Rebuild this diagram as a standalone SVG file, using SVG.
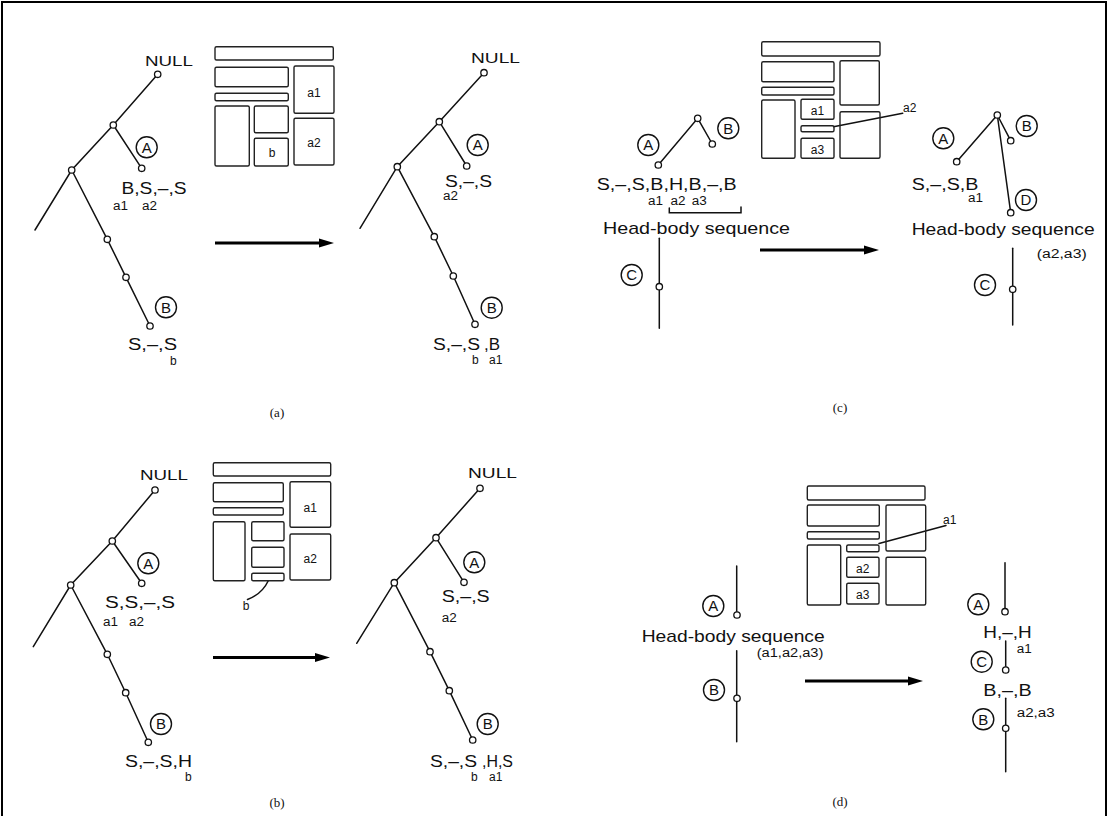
<svg xmlns="http://www.w3.org/2000/svg" width="1109" height="816" viewBox="0 0 1109 816">
<style>
.t{font-family:"Liberation Sans",Arial,Helvetica,sans-serif;fill:#111}
.lb{font-size:16px}
.sm{font-size:12px}
.cap{font-family:"Liberation Serif","Times New Roman",serif;font-size:13px;fill:#111}
.e{stroke:#111;stroke-width:1.5;fill:none;stroke-linecap:round}
.n{fill:#fff;stroke:#111;stroke-width:1.3}
.c{fill:none;stroke:#111;stroke-width:1.4}
.ct{font-family:"Liberation Sans",Arial,sans-serif;font-size:15px;fill:#111;text-anchor:middle}
.bx{fill:none;stroke:#222;stroke-width:1.4}
.bl{font-family:"Liberation Sans",Arial,sans-serif;font-size:12px;fill:#111;text-anchor:middle}
.ar{stroke:#000;stroke-width:3;fill:none}
.ah{fill:#000}
</style>
<rect width="1109" height="816" fill="#fff"/>
<path d="M2,816 V2 H1106 V816" fill="none" stroke="#000" stroke-width="2"/>

<!-- ===== connectors ===== -->
<g id="connectors">
  <!-- (a) left tree -->
  <polyline class="e" points="157.7,74.3 113.3,125 71.7,170 35,230"/>
  <line class="e" x1="113.3" y1="125" x2="141.7" y2="168.3"/>
  <polyline class="e" points="71.7,170 107.3,239.3 126,277.3 150,326"/>
  <!-- (a) right tree -->
  <polyline class="e" points="484,72.7 439.3,121.7 397.3,166.7 360,228.3"/>
  <line class="e" x1="439.3" y1="121.7" x2="466.7" y2="166"/>
  <polyline class="e" points="397.3,166.7 434.3,236.7 453.3,276 475,324.3"/>
  <!-- (b) left tree -->
  <polyline class="e" points="155,490 112.3,541 70.7,585 33.3,646.7"/>
  <line class="e" x1="112.3" y1="541" x2="141.7" y2="583.3"/>
  <polyline class="e" points="70.7,585 107.3,654.3 125.7,692.7 148.3,742.3"/>
  <!-- (b) right tree -->
  <polyline class="e" points="480,488.3 436,537.7 394.3,582.7 356.7,643.3"/>
  <line class="e" x1="436" y1="537.7" x2="464" y2="582.3"/>
  <polyline class="e" points="394.3,582.7 430,651.7 449.3,690.7 472.7,740"/>
  <!-- (c) left -->
  <polyline class="e" points="658.3,165 697.7,118.3 712.3,144"/>
  <line class="e" x1="659.3" y1="238.3" x2="659.3" y2="328.3"/>
  <path class="e" d="M669.3,208 V212.7 H741 V207"/>
  <!-- (c) right -->
  <line class="e" x1="997.3" y1="115" x2="956.7" y2="161.7"/>
  <line class="e" x1="997.3" y1="115" x2="1010.7" y2="140.7"/>
  <line class="e" x1="997.3" y1="115" x2="1010.7" y2="212.7"/>
  <line class="e" x1="1012.7" y1="248.3" x2="1012.7" y2="325"/>
  <!-- (d) left -->
  <line class="e" x1="736.7" y1="566" x2="736.7" y2="615"/>
  <line class="e" x1="736.7" y1="650.7" x2="736.7" y2="741.7"/>
  <!-- (d) right -->
  <line class="e" x1="1005" y1="562.7" x2="1005" y2="611.7"/>
  <line class="e" x1="1005.7" y1="641" x2="1005.7" y2="670"/>
  <line class="e" x1="1005.7" y1="698.3" x2="1005.7" y2="771.7"/>
  <!-- leaders -->
  <line class="e" x1="833.5" y1="126.7" x2="902.7" y2="113.3"/>
  <line class="e" x1="879" y1="543.5" x2="946" y2="525.5"/>
  <path class="e" d="M268.3,580.7 Q262,594 247.5,599.5"/>
  <!-- transformation arrows -->
  <line class="ar" x1="215" y1="243" x2="321" y2="243"/><polygon class="ah" points="319,238.5 334,243 319,247.5"/>
  <line class="ar" x1="213" y1="657.5" x2="317" y2="657.5"/><polygon class="ah" points="315,653 330,657.5 315,662"/>
  <line class="ar" x1="760" y1="250" x2="866" y2="250"/><polygon class="ah" points="864,245.5 879,250 864,254.5"/>
  <line class="ar" x1="805" y1="681" x2="910" y2="681"/><polygon class="ah" points="908,676.5 923,681 908,685.5"/>
</g>

<!-- ===== panel (a) ===== -->
<g id="a-left">
  <g id="a-l-null"><circle class="n" cx="157.7" cy="74.3" r="3.2"/><text class="t" x="145" y="66" font-size="15" textLength="48" lengthAdjust="spacingAndGlyphs">NULL</text></g>
  <g id="a-l-n1"><circle class="n" cx="113.3" cy="125" r="3.2"/></g>
  <g id="a-l-n2"><circle class="n" cx="71.7" cy="170" r="3.2"/></g>
  <g id="a-l-A"><circle class="n" cx="141.7" cy="168.3" r="3.2"/><circle class="c" cx="146.7" cy="147.3" r="10.5"/><text class="ct" x="146.7" y="152.6">A</text>
    <text class="t lb" x="121.5" y="193.5" textLength="65" lengthAdjust="spacingAndGlyphs">B,S,–,S</text>
    <text class="t sm" x="113" y="210" textLength="15" lengthAdjust="spacingAndGlyphs">a1</text>
    <text class="t sm" x="142" y="210" textLength="15" lengthAdjust="spacingAndGlyphs">a2</text></g>
  <g id="a-l-n3"><circle class="n" cx="107.3" cy="239.3" r="3.2"/></g>
  <g id="a-l-n4"><circle class="n" cx="126" cy="277.3" r="3.2"/></g>
  <g id="a-l-B"><circle class="n" cx="150" cy="326" r="3.2"/><circle class="c" cx="166" cy="307.3" r="10.5"/><text class="ct" x="166" y="312.6">B</text>
    <text class="t lb" x="128" y="350" textLength="49" lengthAdjust="spacingAndGlyphs">S,–,S</text>
    <text class="t sm" x="170" y="365">b</text></g>
</g>
<g id="a-layout">
  <rect class="bx" x="215" y="46.7" width="118.3" height="13.3" rx="1.5"/>
  <rect class="bx" x="215" y="67.3" width="73.3" height="19.4" rx="1.5"/>
  <rect class="bx" x="294" y="66" width="40" height="47.3" rx="1.5"/>
  <rect class="bx" x="215" y="93.3" width="73.3" height="7.4" rx="1.5"/>
  <rect class="bx" x="215" y="106" width="34.3" height="60" rx="1.5"/>
  <rect class="bx" x="254.3" y="106" width="34" height="26.7" rx="1.5"/>
  <rect class="bx" x="254.3" y="138.3" width="34" height="27.7" rx="1.5"/>
  <rect class="bx" x="294" y="118.3" width="40" height="46.7" rx="1.5"/>
  <text class="bl" x="314" y="96.5">a1</text>
  <text class="bl" x="314" y="146.5">a2</text>
  <text class="bl" x="272" y="156.5">b</text>
</g>
<g id="a-right">
  <g id="a-r-null"><circle class="n" cx="484" cy="72.7" r="3.2"/><text class="t" x="471" y="63" font-size="15" textLength="49" lengthAdjust="spacingAndGlyphs">NULL</text></g>
  <g id="a-r-n1"><circle class="n" cx="439.3" cy="121.7" r="3.2"/></g>
  <g id="a-r-n2"><circle class="n" cx="397.3" cy="166.7" r="3.2"/></g>
  <g id="a-r-A"><circle class="n" cx="466.7" cy="166" r="3.2"/><circle class="c" cx="477.7" cy="145" r="10.5"/><text class="ct" x="477.7" y="150.3">A</text>
    <text class="t lb" x="445" y="187" textLength="47" lengthAdjust="spacingAndGlyphs">S,–,S</text>
    <text class="t sm" x="443" y="200" textLength="15" lengthAdjust="spacingAndGlyphs">a2</text></g>
  <g id="a-r-n3"><circle class="n" cx="434.3" cy="236.7" r="3.2"/></g>
  <g id="a-r-n4"><circle class="n" cx="453.3" cy="276" r="3.2"/></g>
  <g id="a-r-B"><circle class="n" cx="475" cy="324.3" r="3.2"/><circle class="c" cx="491.7" cy="307.7" r="10.5"/><text class="ct" x="491.7" y="313">B</text>
    <text class="t lb" x="433" y="350" textLength="47" lengthAdjust="spacingAndGlyphs">S,–,S</text>
    <text class="t lb" x="484" y="350" textLength="16" lengthAdjust="spacingAndGlyphs">,B</text>
    <text class="t sm" x="472" y="364">b</text>
    <text class="t sm" x="489" y="364">a1</text></g>
</g>
<text class="cap" x="277" y="417" text-anchor="middle">(a)</text>

<!-- ===== panel (b) ===== -->
<g id="b-left">
  <g id="b-l-null"><circle class="n" cx="155" cy="490" r="3.2"/><text class="t" x="140" y="480" font-size="15" textLength="48" lengthAdjust="spacingAndGlyphs">NULL</text></g>
  <g id="b-l-n1"><circle class="n" cx="112.3" cy="541" r="3.2"/></g>
  <g id="b-l-n2"><circle class="n" cx="70.7" cy="585" r="3.2"/></g>
  <g id="b-l-A"><circle class="n" cx="141.7" cy="583.3" r="3.2"/><circle class="c" cx="148.3" cy="563.3" r="10.5"/><text class="ct" x="148.3" y="568.6">A</text>
    <text class="t lb" x="105" y="608" textLength="70" lengthAdjust="spacingAndGlyphs">S,S,–,S</text>
    <text class="t sm" x="103" y="626" textLength="15" lengthAdjust="spacingAndGlyphs">a1</text>
    <text class="t sm" x="129" y="626" textLength="15" lengthAdjust="spacingAndGlyphs">a2</text></g>
  <g id="b-l-n3"><circle class="n" cx="107.3" cy="654.3" r="3.2"/></g>
  <g id="b-l-n4"><circle class="n" cx="125.7" cy="692.7" r="3.2"/></g>
  <g id="b-l-B"><circle class="n" cx="148.3" cy="742.3" r="3.2"/><circle class="c" cx="161" cy="724" r="10.5"/><text class="ct" x="161" y="729.3">B</text>
    <text class="t lb" x="125" y="767" textLength="67" lengthAdjust="spacingAndGlyphs">S,–,S,H</text>
    <text class="t sm" x="185" y="781">b</text></g>
</g>
<g id="b-layout">
  <rect class="bx" x="213.3" y="462.7" width="117.4" height="13.3" rx="1.5"/>
  <rect class="bx" x="213.3" y="482.7" width="70" height="19" rx="1.5"/>
  <rect class="bx" x="290" y="481.7" width="40.7" height="45.6" rx="1.5"/>
  <rect class="bx" x="213.3" y="507.7" width="70" height="7.3" rx="1.5"/>
  <rect class="bx" x="213.3" y="521.7" width="31.7" height="59" rx="1.5"/>
  <rect class="bx" x="251.7" y="521.7" width="32.3" height="19" rx="1.5"/>
  <rect class="bx" x="251.7" y="547.3" width="32.3" height="20" rx="1.5"/>
  <rect class="bx" x="251.7" y="573.3" width="32.3" height="7.4" rx="1.5"/>
  <rect class="bx" x="290" y="534" width="40.7" height="46" rx="1.5"/>
  <text class="bl" x="310.3" y="511.5">a1</text>
  <text class="bl" x="310.3" y="563">a2</text>
  <text class="bl" x="246" y="610">b</text>
</g>
<g id="b-right">
  <g id="b-r-null"><circle class="n" cx="480" cy="488.3" r="3.2"/><text class="t" x="468" y="478" font-size="15" textLength="49" lengthAdjust="spacingAndGlyphs">NULL</text></g>
  <g id="b-r-n1"><circle class="n" cx="436" cy="537.7" r="3.2"/></g>
  <g id="b-r-n2"><circle class="n" cx="394.3" cy="582.7" r="3.2"/></g>
  <g id="b-r-A"><circle class="n" cx="464" cy="582.3" r="3.2"/><circle class="c" cx="474.3" cy="562.3" r="10.5"/><text class="ct" x="474.3" y="567.6">A</text>
    <text class="t lb" x="441.7" y="601.7" textLength="48" lengthAdjust="spacingAndGlyphs">S,–,S</text>
    <text class="t sm" x="441.7" y="622" textLength="15" lengthAdjust="spacingAndGlyphs">a2</text></g>
  <g id="b-r-n3"><circle class="n" cx="430" cy="651.7" r="3.2"/></g>
  <g id="b-r-n4"><circle class="n" cx="449.3" cy="690.7" r="3.2"/></g>
  <g id="b-r-B"><circle class="n" cx="472.7" cy="740" r="3.2"/><circle class="c" cx="487.7" cy="724" r="10.5"/><text class="ct" x="487.7" y="729.3">B</text>
    <text class="t lb" x="430" y="767" textLength="47" lengthAdjust="spacingAndGlyphs">S,–,S</text>
    <text class="t lb" x="482" y="767" textLength="31" lengthAdjust="spacingAndGlyphs">,H,S</text>
    <text class="t sm" x="471" y="781">b</text>
    <text class="t sm" x="489" y="781">a1</text></g>
</g>
<text class="cap" x="277" y="807" text-anchor="middle">(b)</text>

<!-- ===== panel (c) ===== -->
<g id="c-left">
  <g id="c-l-top"><circle class="n" cx="697.7" cy="118.3" r="3.2"/></g>
  <g id="c-l-A"><circle class="n" cx="658.3" cy="165" r="3.2"/><circle class="c" cx="648.3" cy="145" r="10.5"/><text class="ct" x="648.3" y="150.3">A</text></g>
  <g id="c-l-B"><circle class="n" cx="712.3" cy="144" r="3.2"/><circle class="c" cx="728.3" cy="128.3" r="10.5"/><text class="ct" x="728.3" y="133.6">B</text></g>
  <g id="c-l-seq">
    <text class="t lb" x="596.7" y="190" textLength="140" lengthAdjust="spacingAndGlyphs">S,–,S,B,H,B,–,B</text>
    <text class="t sm" x="648" y="205" textLength="15" lengthAdjust="spacingAndGlyphs">a1</text>
    <text class="t sm" x="670.5" y="205" textLength="15" lengthAdjust="spacingAndGlyphs">a2</text>
    <text class="t sm" x="691.7" y="205" textLength="15" lengthAdjust="spacingAndGlyphs">a3</text>
    <text class="t" x="603" y="233.5" font-size="17" textLength="187" lengthAdjust="spacingAndGlyphs">Head-body sequence</text></g>
  <g id="c-l-C"><circle class="n" cx="659.3" cy="286.7" r="3.2"/><circle class="c" cx="631.7" cy="275" r="10.5"/><text class="ct" x="631.7" y="280.3">C</text></g>
</g>
<g id="c-layout">
  <rect class="bx" x="761.7" y="41.7" width="118.3" height="14.3" rx="1.5"/>
  <rect class="bx" x="761.7" y="61.7" width="72.3" height="20" rx="1.5"/>
  <rect class="bx" x="840" y="60.7" width="39.3" height="44.3" rx="1.5"/>
  <rect class="bx" x="761.7" y="87.3" width="72.3" height="7.7" rx="1.5"/>
  <rect class="bx" x="761.7" y="100" width="33.3" height="58.3" rx="1.5"/>
  <rect class="bx" x="801" y="99.3" width="33" height="20" rx="1.5"/>
  <rect class="bx" x="801" y="125.7" width="33" height="6" rx="1.5"/>
  <rect class="bx" x="801" y="138.3" width="33" height="20" rx="1.5"/>
  <rect class="bx" x="840" y="111.7" width="40" height="46.6" rx="1.5"/>
  <text class="bl" x="817.5" y="114.5">a1</text>
  <text class="bl" x="817.5" y="153.5">a3</text>
  <text class="t" x="903" y="112" font-size="12">a2</text>
</g>
<g id="c-right">
  <g id="c-r-top"><circle class="n" cx="997.3" cy="115" r="3.2"/></g>
  <g id="c-r-A"><circle class="n" cx="956.7" cy="161.7" r="3.2"/><circle class="c" cx="943.3" cy="138.3" r="10.5"/><text class="ct" x="943.3" y="143.6">A</text>
    <text class="t lb" x="911.7" y="190" textLength="66.7" lengthAdjust="spacingAndGlyphs">S,–,S,B</text>
    <text class="t sm" x="968" y="202" textLength="15" lengthAdjust="spacingAndGlyphs">a1</text></g>
  <g id="c-r-B"><circle class="n" cx="1010.7" cy="140.7" r="3.2"/><circle class="c" cx="1026.7" cy="126" r="10.5"/><text class="ct" x="1026.7" y="131.3">B</text></g>
  <g id="c-r-D"><circle class="n" cx="1010.7" cy="212.7" r="3.2"/><circle class="c" cx="1026" cy="200" r="10.5"/><text class="ct" x="1026" y="205.3">D</text>
    <text class="t" x="911.7" y="234.5" font-size="17" textLength="183" lengthAdjust="spacingAndGlyphs">Head-body sequence</text>
    <text class="t sm" x="1036.7" y="258" textLength="50" lengthAdjust="spacingAndGlyphs">(a2,a3)</text></g>
  <g id="c-r-C"><circle class="n" cx="1012.7" cy="289.3" r="3.2"/><circle class="c" cx="985" cy="285" r="10.5"/><text class="ct" x="985" y="290.3">C</text></g>
</g>
<text class="cap" x="840" y="412" text-anchor="middle">(c)</text>

<!-- ===== panel (d) ===== -->
<g id="d-left">
  <g id="d-l-A"><circle class="n" cx="737" cy="615" r="3.2"/><circle class="c" cx="713.3" cy="606" r="10.5"/><text class="ct" x="713.3" y="611.3">A</text></g>
  <g id="d-l-seq">
    <text class="t" x="641.7" y="641.5" font-size="17" textLength="183" lengthAdjust="spacingAndGlyphs">Head-body sequence</text>
    <text class="t sm" x="756.7" y="657" textLength="66.7" lengthAdjust="spacingAndGlyphs">(a1,a2,a3)</text></g>
  <g id="d-l-B"><circle class="n" cx="737" cy="698.3" r="3.2"/><circle class="c" cx="714" cy="690" r="10.5"/><text class="ct" x="714" y="695.3">B</text></g>
</g>
<g id="d-layout">
  <rect class="bx" x="807.3" y="486" width="117.7" height="14" rx="1.5"/>
  <rect class="bx" x="807.3" y="505" width="72" height="21" rx="1.5"/>
  <rect class="bx" x="886" y="505" width="39.7" height="46" rx="1.5"/>
  <rect class="bx" x="807.3" y="531.7" width="72" height="7.3" rx="1.5"/>
  <rect class="bx" x="807.3" y="545" width="33.4" height="60" rx="1.5"/>
  <rect class="bx" x="846.7" y="545" width="32.3" height="6.7" rx="1.5"/>
  <rect class="bx" x="846.7" y="557.3" width="32.3" height="20" rx="1.5"/>
  <rect class="bx" x="846.7" y="583.3" width="32.3" height="20.7" rx="1.5"/>
  <rect class="bx" x="886" y="557.3" width="39.7" height="47.7" rx="1.5"/>
  <text class="bl" x="862.8" y="572.5">a2</text>
  <text class="bl" x="862.8" y="599">a3</text>
  <text class="t" x="943" y="524" font-size="12">a1</text>
</g>
<g id="d-right">
  <g id="d-r-A"><circle class="n" cx="1005" cy="611.7" r="3.2"/><circle class="c" cx="978.3" cy="604.3" r="10.5"/><text class="ct" x="978.3" y="609.6">A</text>
    <text class="t lb" x="983.3" y="638" textLength="48.4" lengthAdjust="spacingAndGlyphs">H,–,H</text>
    <text class="t sm" x="1016.7" y="653" textLength="15" lengthAdjust="spacingAndGlyphs">a1</text></g>
  <g id="d-r-C"><circle class="n" cx="1005.7" cy="670" r="3.2"/><circle class="c" cx="981.7" cy="661.7" r="10.5"/><text class="ct" x="981.7" y="667">C</text>
    <text class="t lb" x="983.3" y="696" textLength="48.4" lengthAdjust="spacingAndGlyphs">B,–,B</text>
    <text class="t sm" x="1016.7" y="716.7" textLength="38" lengthAdjust="spacingAndGlyphs">a2,a3</text></g>
  <g id="d-r-B"><circle class="n" cx="1005.7" cy="728.3" r="3.2"/><circle class="c" cx="983.3" cy="719.3" r="10.5"/><text class="ct" x="983.3" y="724.6">B</text></g>
</g>
<text class="cap" x="840" y="806" text-anchor="middle">(d)</text>
</svg>
